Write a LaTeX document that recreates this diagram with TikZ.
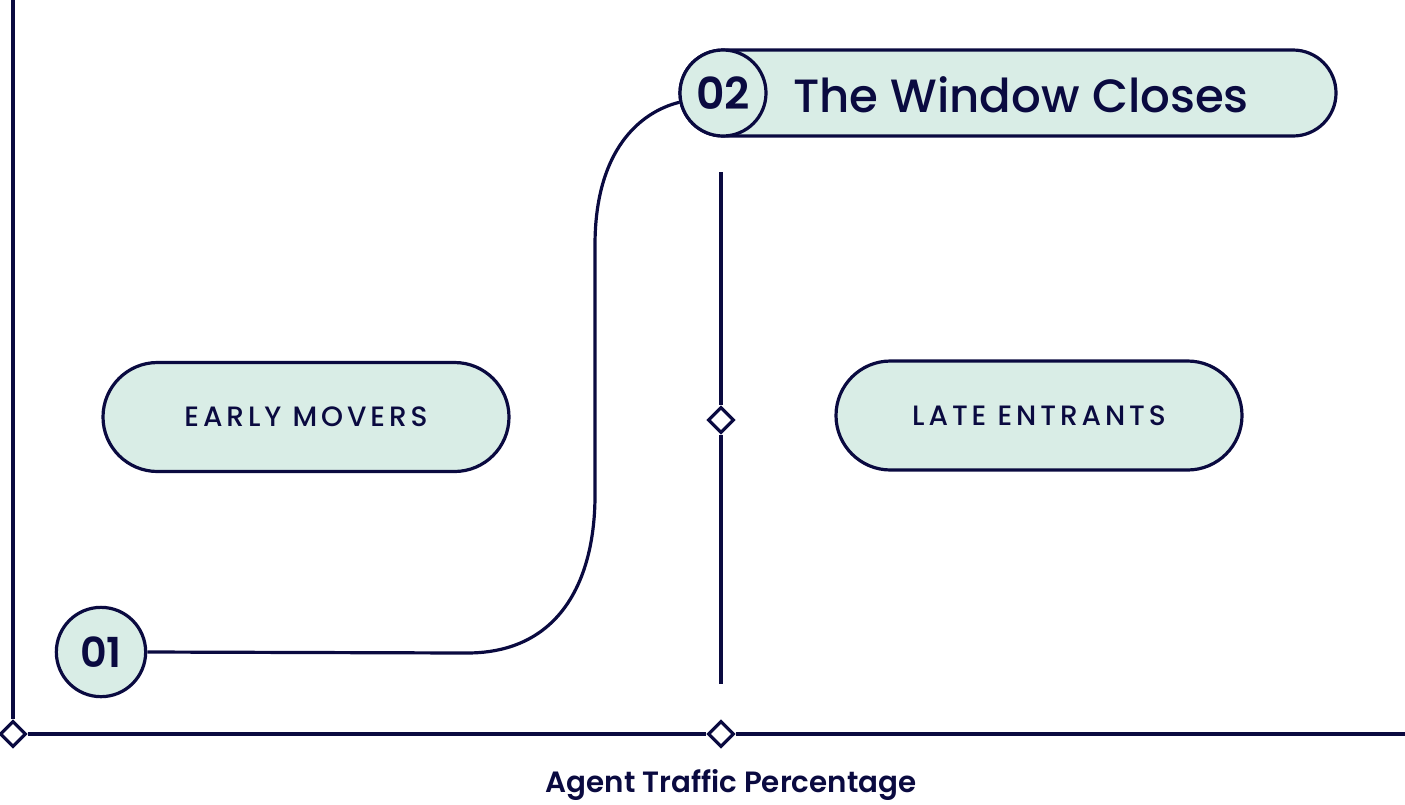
\documentclass[tikz,border=0pt]{standalone}
\usepackage{fontspec}
\setmainfont{Poppins}[UprightFont={* SemiBold},BoldFont={* Bold}]
\newfontfamily\popmed{Poppins}[UprightFont={* Medium}]
\usetikzlibrary{shapes.geometric,shapes.misc}
\definecolor{navy}{HTML}{0A0A40}
\definecolor{mint}{HTML}{D9EDE6}
\tikzset{
  ln/.style={draw=navy,line width=2.4pt},
  pill/.style={rounded rectangle,ln,fill=mint,inner sep=0pt,text=navy},
  numc/.style={circle,ln,fill=mint,inner sep=0pt,text=navy},
  dia/.style={diamond,ln,fill=white,inner sep=0pt,minimum size=19.5pt},
  caps/.style={font=\popmed\fontsize{21}{25}\selectfont\addfontfeature{LetterSpace=14}},
}
\begin{document}
\begin{tikzpicture}[x=0.75pt,y=-0.75pt]
\useasboundingbox (0,0) rectangle (1405,804);
% axes
\node[dia] (d0) at (13,734) {};
\node[dia] (d1) at (721,734) {};
\node[dia] (d2) at (721,420) {};
\coordinate (ytop) at (13,0);
\coordinate (xend) at (1405,734);
\coordinate (vtop) at (721,172);
\coordinate (vbot) at (721,684);
\draw[ln] (ytop) -- (d0.north);
\draw[ln] (d0.east) -- (d1.west);
\draw[ln] (d1.east) -- (xend);
\draw[ln] (vtop) -- (d2.north);
\draw[ln] (d2.south) -- (vbot);
% pills
\node[pill,minimum width=304.5pt,minimum height=81.75pt,caps] (early) at (306,417) {EARLY MOVERS};
\node[pill,minimum width=304.5pt,minimum height=81.75pt,caps] (late) at (1039,415.5) {LATE ENTRANTS};
\node[pill,minimum width=492pt,minimum height=64.5pt] (p2) at (1008,93) {};
\node[text=navy,font=\popmed\fontsize{35}{40}\selectfont] (title) at (1021,95) {The Window Closes};
\node[numc,minimum size=64.5pt,font=\fontsize{33}{40}\selectfont] (c2) at (723,93) {02};
\node[numc,minimum size=67pt,font=\fontsize{31}{38}\selectfont] (c1) at (101,652) {01};
% connector
\draw[ln] (c1.east) -- (467,653) .. controls (560,653) and (595,580) .. (595,495) -- (595,245) .. controls (595,150) and (640,112) .. (c2.192);
% axis label
\node[text=navy,font=\fontsize{22}{26}\selectfont] (xlab) at (731,785) {Agent Traffic Percentage};
\end{tikzpicture}
\end{document}
